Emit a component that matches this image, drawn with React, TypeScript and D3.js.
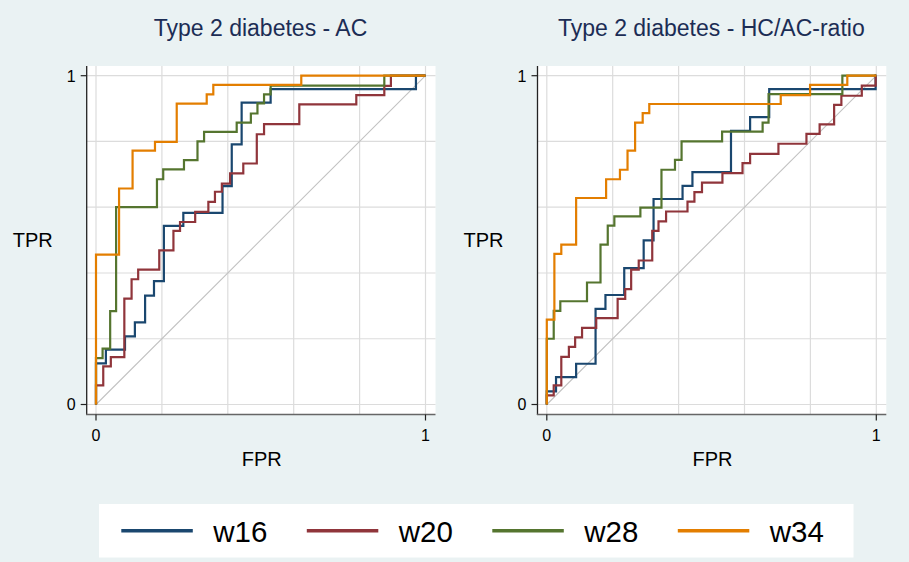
import React from 'react'
import * as d3 from 'd3'

// ROC corner points [fpr, tpr]
const acW16 = [[0,0],[0,0.125],[0.030,0.167],[0.088,0.207],[0.118,0.250],[0.149,0.331],[0.176,0.375],[0.206,0.543],[0.265,0.583],[0.384,0.664],[0.412,0.791],[0.442,0.918],[0.530,0.959],[0.971,1],[1,1]]
const acW20 = [[0,0],[0,0.058],[0.022,0.116],[0.045,0.144],[0.086,0.322],[0.108,0.381],[0.128,0.410],[0.192,0.469],[0.235,0.528],[0.255,0.555],[0.301,0.586],[0.341,0.616],[0.361,0.647],[0.382,0.672],[0.407,0.703],[0.447,0.733],[0.488,0.822],[0.510,0.853],[0.617,0.913],[0.790,0.941],[0.875,0.969],[0.895,1],[1,1]]
const acW28 = [[0,0],[0,0.141],[0.020,0.170],[0.043,0.284],[0.061,0.600],[0.185,0.685],[0.204,0.715],[0.267,0.743],[0.308,0.800],[0.328,0.829],[0.427,0.857],[0.470,0.885],[0.490,0.916],[0.510,0.943],[0.530,0.970],[0.875,1],[1,1]]
const acW34 = [[0,0],[0,0.456],[0.070,0.657],[0.111,0.772],[0.179,0.799],[0.245,0.915],[0.336,0.943],[0.356,0.972],[0.623,1],[1,1]]

const hcW16 = [[0,0],[0,0.040],[0.028,0.083],[0.089,0.124],[0.148,0.291],[0.178,0.333],[0.235,0.415],[0.294,0.499],[0.324,0.625],[0.412,0.665],[0.442,0.707],[0.559,0.832],[0.617,0.874],[0.675,0.959],[0.998,1],[1,1]]
const hcW20 = [[0,0],[0,0.028],[0.021,0.058],[0.044,0.145],[0.067,0.175],[0.086,0.204],[0.107,0.233],[0.150,0.263],[0.215,0.321],[0.238,0.351],[0.256,0.410],[0.279,0.438],[0.320,0.528],[0.339,0.557],[0.362,0.587],[0.427,0.617],[0.448,0.646],[0.471,0.675],[0.533,0.704],[0.594,0.734],[0.617,0.762],[0.703,0.793],[0.788,0.823],[0.828,0.852],[0.872,0.911],[0.894,0.939],[0.956,0.970],[0.998,1],[1,1]]
const hcW28 = [[0,0],[0,0.200],[0.021,0.285],[0.041,0.314],[0.122,0.371],[0.163,0.486],[0.185,0.544],[0.205,0.572],[0.284,0.599],[0.348,0.714],[0.389,0.744],[0.409,0.800],[0.532,0.830],[0.655,0.857],[0.673,0.944],[0.897,1],[1,1]]
const hcW34 = [[0,0],[0,0.258],[0.023,0.458],[0.044,0.486],[0.089,0.628],[0.180,0.685],[0.222,0.714],[0.245,0.772],[0.268,0.857],[0.291,0.886],[0.311,0.914],[0.710,0.941],[0.799,0.972],[0.912,1],[1,1]]

const seriesNames = ['w16', 'w20', 'w28', 'w34']
const seriesColors = ['#1a476f', '#90353b', '#55752f', '#e37e00']
const panelTitles = ['Type 2 diabetes - AC', 'Type 2 diabetes - HC/AC-ratio']
const gridTicks = [0, 0.2, 0.4, 0.6, 0.8, 1]
const labelTicks = [0, 1]

const font = 'Liberation Sans, Arial, sans-serif'

const Panel = ({ dx, title, series }: { dx: number, title: string, series: number[][][] }) => {
  const axisX = 86.7 + dx
  const right = 435.5 + dx
  const top = 66
  const bottom = 414.5
  const x = d3.scaleLinear().domain([0, 1]).range([96 + dx, 425.5 + dx])
  const y = d3.scaleLinear().domain([0, 1]).range([404.5, 75.7])
  const line = d3.line<number[]>().x(d => x(d[0])).y(d => y(d[1])).curve(d3.curveStepAfter)
  return (
    <g>
      <text x={260.5 + dx} y={35.7} textAnchor="middle" fontSize={23} fill="#1c2d55" fontFamily={font}>{title}</text>
      <rect x={axisX} y={top} width={right - axisX} height={bottom - top} fill="#fff" />
      {gridTicks.map(t => (
        <line key={'h' + t} x1={axisX} x2={right} y1={y(t)} y2={y(t)} stroke="#dcdcdc" strokeWidth={1.2} />
      ))}
      {gridTicks.map(t => (
        <line key={'v' + t} x1={x(t)} x2={x(t)} y1={top} y2={bottom} stroke="#dcdcdc" strokeWidth={1.2} />
      ))}
      <line x1={x(0)} y1={y(0)} x2={x(1)} y2={y(1)} stroke="#c2c2c2" strokeWidth={1.1} />
      {series.map((s, i) => (
        <path key={i} d={line(s) || ''} fill="none" stroke={seriesColors[i]} strokeWidth={2.2} />
      ))}
      <line x1={axisX} x2={axisX} y1={top} y2={bottom + 0.5} stroke="#222" strokeWidth={1.3} />
      <line x1={axisX - 0.6} x2={right} y1={bottom} y2={bottom} stroke="#666" strokeWidth={1.5} />
      {labelTicks.map(t => (
        <g key={'t' + t}>
          <line x1={axisX - 6} x2={axisX} y1={y(t)} y2={y(t)} stroke="#222" strokeWidth={1.2} />
          <text x={axisX - 11} y={y(t) + 5.8} textAnchor="end" fontSize={16} fontFamily={font}>{t}</text>
          <line x1={x(t)} x2={x(t)} y1={bottom} y2={bottom + 6} stroke="#222" strokeWidth={1.2} />
          <text x={x(t)} y={441} textAnchor="middle" fontSize={16} fontFamily={font}>{t}</text>
        </g>
      ))}
      <text x={12.7 + dx} y={246.7} fontSize={20} fontFamily={font}>TPR</text>
      <text x={241.7 + dx} y={465.7} fontSize={20} fontFamily={font}>FPR</text>
    </g>
  )
}

const App = () => {
  const legendX = d3.scaleBand().domain(seriesNames).range([121.3, 121.3 + 4 * 185.5])
  return (
    <svg width={909} height={562} style={{ position: 'absolute', left: 0, top: 0 }}>
      <rect width={909} height={562} fill="#eaf2f3" />
      <Panel dx={0} title={panelTitles[0]} series={[acW16, acW20, acW28, acW34]} />
      <Panel dx={450.8} title={panelTitles[1]} series={[hcW16, hcW20, hcW28, hcW34]} />
      <rect x={99} y={504} width={754.5} height={53.5} fill="#fff" />
      {seriesNames.map((n, i) => {
        const lx = legendX(n) || 0
        return (
          <g key={n}>
            <line x1={lx} x2={lx + 71.5} y1={530.7} y2={530.7} stroke={seriesColors[i]} strokeWidth={3.4} />
            <text x={lx + 92} y={542} fontSize={29.5} fontFamily={font}>{n}</text>
          </g>
        )
      })}
    </svg>
  )
}

export default App
